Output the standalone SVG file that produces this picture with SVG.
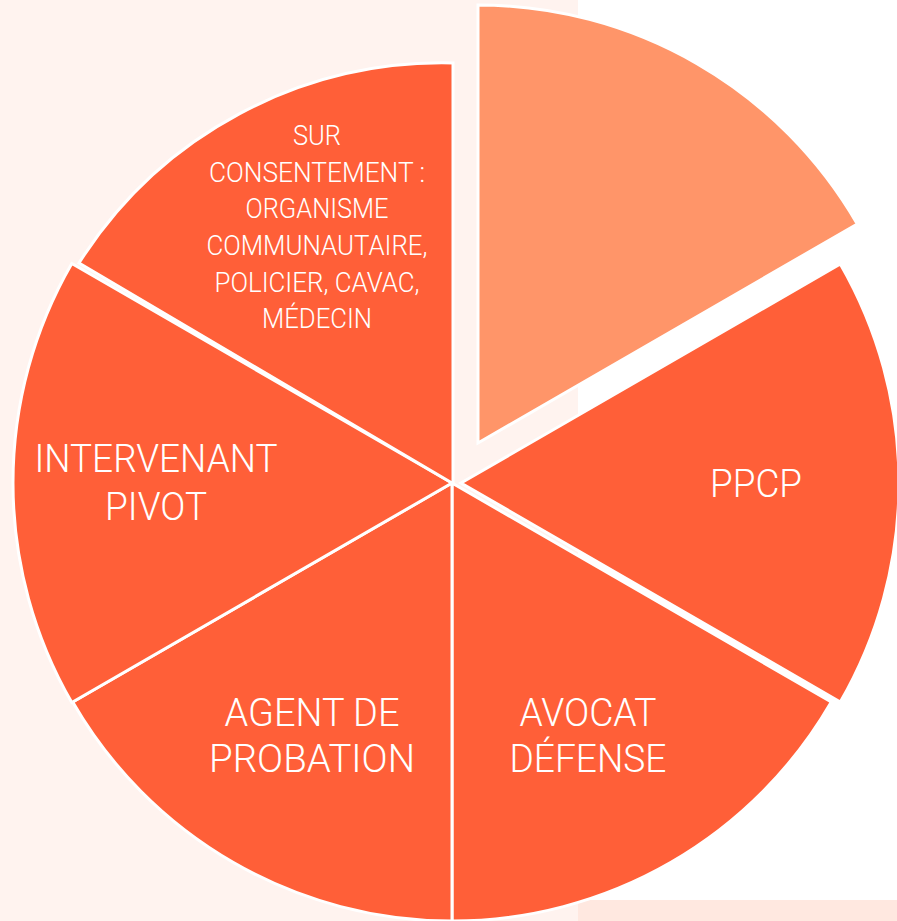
<svg xmlns="http://www.w3.org/2000/svg" width="897" height="921" viewBox="0 0 897 921">
<style>
.slice{fill:#FF5F38;stroke:#FFFFFF;stroke-width:3;stroke-linejoin:miter}
.hl{fill:#FF9569}
.lbl{fill:#FFFFFF;font-family:Roboto,"Open Sans","Liberation Sans",sans-serif;font-weight:300;text-anchor:middle}
.big{font-size:39px}
.sm{font-size:28px}
</style>
<rect x="0" y="0" width="897" height="921" fill="#FFFFFF"/>
<rect x="0" y="0" width="578" height="921" fill="#FFF3EF"/>
<rect x="578" y="900" width="319" height="21" fill="#FFE8E0"/>
<g id="connectors"/>
<g id="slice-highlight">
<path class="slice hl" d="M478,443 L478,5 A438,438 0 0 1 857.3,224 Z"/>
</g>
<g id="slice-ppcp">
<path class="slice" d="M461,483 L840.3,264 A438,438 0 0 1 840.3,702 Z"/>
<text class="lbl big" x="756" y="497" textLength="92" lengthAdjust="spacingAndGlyphs">PPCP</text>
</g>
<g id="slice-avocat">
<path class="slice" d="M452,483 L831.3,702 A438,438 0 0 1 452,921 Z"/>
<text class="lbl big" x="588" y="726" textLength="137" lengthAdjust="spacingAndGlyphs">AVOCAT</text>
<text class="lbl big" x="588" y="772" textLength="157" lengthAdjust="spacingAndGlyphs">DÉFENSE</text>
</g>
<g id="slice-agent">
<path class="slice" d="M452,483 L452,921 A438,438 0 0 1 72.7,702 Z"/>
<text class="lbl big" x="312" y="726" textLength="175" lengthAdjust="spacingAndGlyphs">AGENT DE</text>
<text class="lbl big" x="312" y="772" textLength="206" lengthAdjust="spacingAndGlyphs">PROBATION</text>
</g>
<g id="slice-intervenant">
<path class="slice" d="M452,483 L71.8,702.5 A439,439 0 0 1 71.8,263.5 Z"/>
<text class="lbl big" x="156" y="472" textLength="243" lengthAdjust="spacingAndGlyphs">INTERVENANT</text>
<text class="lbl big" x="156" y="520" textLength="102" lengthAdjust="spacingAndGlyphs">PIVOT</text>
</g>
<g id="slice-consentement">
<path class="slice" d="M452,483 L79,263 A430,430 0 0 1 453,63 L453,483 Z"/>
<text class="lbl sm" x="317" y="145" textLength="48" lengthAdjust="spacingAndGlyphs">SUR</text>
<text class="lbl sm" x="317" y="182" textLength="216" lengthAdjust="spacingAndGlyphs">CONSENTEMENT :</text>
<text class="lbl sm" x="317" y="218" textLength="143" lengthAdjust="spacingAndGlyphs">ORGANISME</text>
<text class="lbl sm" x="317" y="255" textLength="221" lengthAdjust="spacingAndGlyphs">COMMUNAUTAIRE,</text>
<text class="lbl sm" x="317" y="292" textLength="205" lengthAdjust="spacingAndGlyphs">POLICIER, CAVAC,</text>
<text class="lbl sm" x="317" y="328" textLength="110" lengthAdjust="spacingAndGlyphs">MÉDECIN</text>
</g>
</svg>
